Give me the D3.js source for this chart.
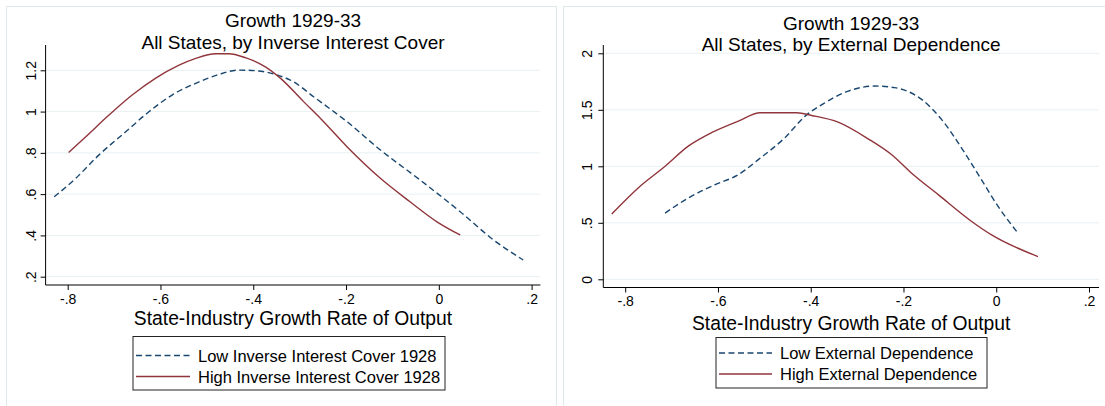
<!DOCTYPE html>
<html lang="en">
<head>
    <meta charset="UTF-8">
    <title>Growth 1929-33</title>
    <script src="https://d3js.org/d3.v7.min.js"></script>
    <style>
        body {
            margin: 0;
            padding: 0;
            background: #fff;
            font-family: "Liberation Sans", Arial, sans-serif;
        }
        svg { display: block; }
        .frame { fill: #fff; stroke: #dfe8eb; stroke-width: 1; }
        .grid line { stroke: #e8f0f2; stroke-width: 1; }
        .axis path { display: none; }
        .axis line { stroke: #000; }
        .axis text { font-size: 14px; fill: #000; font-family: "Liberation Sans", Arial, sans-serif; }
        .title { font-size: 19px; fill: #000; }
        .xtitle { font-size: 19.3px; fill: #000; }
        .legend text { font-size: 16.5px; fill: #000; }
    </style>
</head>
<body>
<svg width="1105" height="406"></svg>
<script>
    // tick values and labels
    const xTicks = [-0.8, -0.6, -0.4, -0.2, 0, 0.2];
    const xTickLabels = ["-.8", "-.6", "-.4", "-.2", "0", ".2"];
    const leftYTicks = [0.2, 0.4, 0.6, 0.8, 1.0, 1.2];
    const leftYTickLabels = [".2", ".4", ".6", ".8", "1", "1.2"];
    const rightYTicks = [0, 0.5, 1, 1.5, 2];
    const rightYTickLabels = ["0", ".5", "1", "1.5", "2"];

    // left panel: by inverse interest cover
    const lowIICx = [-0.829, -0.783, -0.733, -0.675, -0.625, -0.575, -0.524, -0.474, -0.431, -0.395, -0.352, -0.313, -0.270, -0.198, -0.126, -0.040, 0.046, 0.118, 0.182];
    const lowIICy = [0.587, 0.676, 0.789, 0.902, 0.999, 1.080, 1.137, 1.180, 1.201, 1.198, 1.180, 1.144, 1.072, 0.951, 0.814, 0.668, 0.515, 0.378, 0.281];
    const highIICx = [-0.798, -0.761, -0.711, -0.661, -0.611, -0.560, -0.524, -0.481, -0.453, -0.417, -0.374, -0.341, -0.291, -0.255, -0.198, -0.126, -0.062, -0.004, 0.046];
    const highIICy = [0.802, 0.878, 0.983, 1.080, 1.161, 1.225, 1.258, 1.280, 1.280, 1.261, 1.217, 1.161, 1.047, 0.967, 0.830, 0.677, 0.563, 0.466, 0.402];

    // right panel: by external dependence
    const lowEDx = [-0.714, -0.664, -0.606, -0.556, -0.513, -0.456, -0.412, -0.369, -0.319, -0.262, -0.219, -0.161, -0.118, -0.068, -0.032, 0.004, 0.044];
    const lowEDy = [0.586, 0.719, 0.837, 0.926, 1.059, 1.252, 1.444, 1.563, 1.666, 1.710, 1.696, 1.592, 1.415, 1.119, 0.882, 0.645, 0.423];
    const highEDx = [-0.829, -0.772, -0.714, -0.664, -0.614, -0.556, -0.509, -0.430, -0.398, -0.341, -0.276, -0.226, -0.183, -0.125, -0.053, -0.010, 0.090];
    const highEDy = [0.577, 0.808, 1.0, 1.178, 1.297, 1.400, 1.474, 1.474, 1.450, 1.391, 1.243, 1.104, 0.941, 0.749, 0.512, 0.393, 0.201];

    const lowColor = "#1a476f";
    const highColor = "#90353b";
    const dash = "6,3.5";

    const svg = d3.select("svg");

    function drawPanel(p) {
        const g = svg.append("g");

        g.append("rect").attr("class", "frame")
            .attr("x", p.frame[0]).attr("y", p.frame[1])
            .attr("width", p.frame[2]).attr("height", p.frame[3]);

        const x = d3.scaleLinear().domain([-0.8, 0.2]).range(p.xRange);
        const y = d3.scaleLinear().domain(p.yDomain).range(p.yRange);

        // gridlines
        g.append("g").attr("class", "grid")
            .selectAll("line").data(p.yTicks).enter().append("line")
            .attr("x1", p.left).attr("x2", p.right)
            .attr("y1", d => y(d)).attr("y2", d => y(d));

        // axes
        const xAxis = d3.axisBottom(x).tickValues(xTicks)
            .tickFormat((d, i) => xTickLabels[i]).tickSize(5).tickPadding(4);
        g.append("g").attr("class", "axis")
            .attr("transform", `translate(0,${p.bottom})`)
            .call(xAxis);

        const yAxis = d3.axisLeft(y).tickValues(p.yTicks)
            .tickFormat((d, i) => p.yTickLabels[i]).tickSize(5);
        const ya = g.append("g").attr("class", "axis")
            .attr("transform", `translate(${p.left},0)`)
            .call(yAxis);
        ya.selectAll("text")
            .attr("x", null).attr("dy", null)
            .attr("text-anchor", "middle")
            .attr("transform", `translate(${p.yLabelX - p.left},0) rotate(-90)`);

        g.append("line").attr("x1", p.left).attr("x2", p.left)
            .attr("y1", 45).attr("y2", p.bottom).attr("stroke", "#000");
        g.append("line").attr("x1", p.left).attr("x2", p.right)
            .attr("y1", p.bottom).attr("y2", p.bottom).attr("stroke", "#000");

        // curves
        const line = d3.line().x(d => x(d[0])).y(d => y(d[1])).curve(d3.curveMonotoneX);
        g.append("path").datum(d3.zip(p.lowX, p.lowY))
            .attr("d", line).attr("fill", "none")
            .attr("stroke", lowColor).attr("stroke-width", 1.4)
            .attr("stroke-dasharray", dash);
        g.append("path").datum(d3.zip(p.highX, p.highY))
            .attr("d", line).attr("fill", "none")
            .attr("stroke", highColor).attr("stroke-width", 1.4);

        // titles
        const cx = (p.left + p.right) / 2;
        g.append("text").attr("class", "title").attr("text-anchor", "middle")
            .attr("x", cx).attr("y", p.titleY[0]).text("Growth 1929-33");
        g.append("text").attr("class", "title").attr("text-anchor", "middle")
            .attr("x", cx).attr("y", p.titleY[1]).text(p.subtitle);
        g.append("text").attr("class", "xtitle").attr("text-anchor", "middle")
            .attr("x", cx).attr("y", p.xTitleY).text("State-Industry Growth Rate of Output");

        // legend
        const lg = g.append("g").attr("class", "legend");
        const b = p.legendBox;
        lg.append("rect").attr("x", b[0]).attr("y", b[1]).attr("width", b[2]).attr("height", b[3])
            .attr("fill", "#fff").attr("stroke", "#222").attr("stroke-width", 1);
        const entries = [
            { label: p.lowLabel, color: lowColor, dash: dash },
            { label: p.highLabel, color: highColor, dash: null }
        ];
        entries.forEach((e, i) => {
            const ly = p.legendRows[i];
            lg.append("line")
                .attr("x1", b[0] + 3).attr("x2", b[0] + p.sampleLen)
                .attr("y1", ly).attr("y2", ly)
                .attr("stroke", e.color).attr("stroke-width", 1.6)
                .attr("stroke-dasharray", e.dash);
            lg.append("text")
                .attr("x", b[0] + p.sampleLen + 8).attr("y", ly + 6)
                .text(e.label);
        });
    }

    drawPanel({
        frame: [6.5, 6.5, 550, 420],
        xRange: [67.7, 531.6],
        yDomain: [0.2, 1.2], yRange: [276.7, 70.3],
        left: 45.6, right: 540.4, bottom: 285,
        yTicks: leftYTicks, yTickLabels: leftYTickLabels, yLabelX: 35.5,
        lowX: lowIICx, lowY: lowIICy, highX: highIICx, highY: highIICy,
        titleY: [27, 48.5], xTitleY: 324.5,
        subtitle: "All States, by Inverse Interest Cover",
        legendBox: [133, 336.5, 312, 53.5], legendRows: [355.5, 376.5], sampleLen: 57,
        lowLabel: "Low Inverse Interest Cover 1928",
        highLabel: "High Inverse Interest Cover 1928"
    });

    drawPanel({
        frame: [563.5, 6.5, 560, 420],
        xRange: [625.2, 1089],
        yDomain: [0, 2], yRange: [279.3, 53.3],
        left: 603.3, right: 1099, bottom: 287.5,
        yTicks: rightYTicks, yTickLabels: rightYTickLabels, yLabelX: 592,
        lowX: lowEDx, lowY: lowEDy, highX: highEDx, highY: highEDy,
        titleY: [29.5, 51], xTitleY: 330,
        subtitle: "All States, by External Dependence",
        legendBox: [716, 337.5, 271, 50.5], legendRows: [353, 374], sampleLen: 56,
        lowLabel: "Low External Dependence",
        highLabel: "High External Dependence"
    });
</script>
</body>
</html>
